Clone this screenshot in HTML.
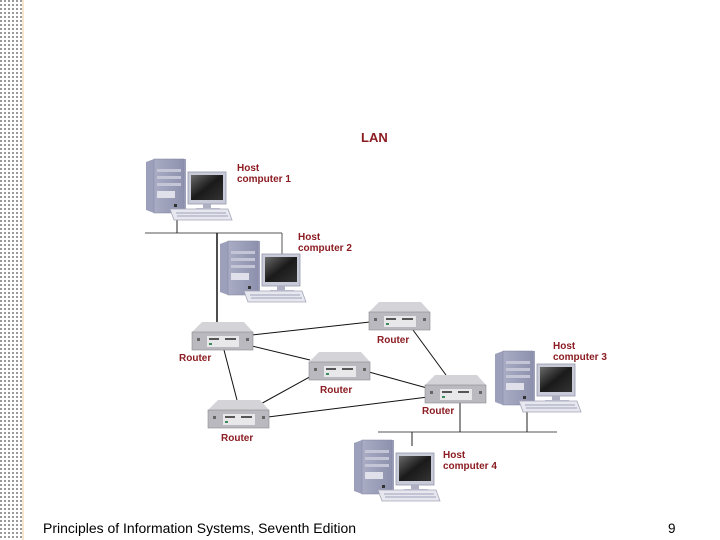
<!DOCTYPE html>
<html><head><meta charset="utf-8"><style>
html,body{margin:0;padding:0;background:#fff;}
body{width:720px;height:540px;overflow:hidden;position:relative;}
svg{position:absolute;left:0;top:0;}
</style></head><body>
<svg width="720" height="540" viewBox="0 0 720 540" xmlns="http://www.w3.org/2000/svg">
<defs>
<pattern id="dots" x="0" y="0" width="4" height="4" patternUnits="userSpaceOnUse">
<rect x="0" y="0" width="2" height="2" fill="#9a9a9a"/>
</pattern>
<linearGradient id="scr" x1="0" y1="0" x2="1" y2="1">
<stop offset="0" stop-color="#6a6a6a"/><stop offset="0.5" stop-color="#1a1a1a"/><stop offset="1" stop-color="#333"/>
</linearGradient>
<linearGradient id="tw" x1="0" y1="0" x2="1" y2="0">
<stop offset="0" stop-color="#a9acc4"/><stop offset="1" stop-color="#8e91ad"/>
</linearGradient>
<g id="comp">
<polygon points="0,3 8,0 40,0 40,52 8,54 0,51" fill="#9da0ba"/>
<rect x="8" y="0" width="30" height="54" fill="url(#tw)" stroke="#80839e" stroke-width="0.5"/>
<rect x="11" y="10" width="24" height="3" fill="#c4c6d8"/>
<rect x="11" y="17" width="24" height="3" fill="#c4c6d8"/>
<rect x="11" y="24" width="24" height="3" fill="#c4c6d8"/>
<rect x="11" y="32" width="18" height="7" fill="#e0e0ea"/>
<rect x="28" y="45" width="3" height="3" fill="#333"/>
<rect x="42" y="13" width="38" height="32" fill="#c8cad8" stroke="#9496aa" stroke-width="0.8"/>
<rect x="45" y="16" width="32" height="25" fill="url(#scr)"/>
<rect x="57" y="45" width="8" height="4" fill="#aeb0c2"/>
<rect x="50" y="49" width="24" height="3" fill="#c2c4d4"/>
<polygon points="24,50 82,50 86,61 28,61" fill="#e6e7ef" stroke="#a4a6b8" stroke-width="0.8"/>
<line x1="30" y1="54" x2="80" y2="54" stroke="#b8bacb" stroke-width="1.5"/>
<line x1="31" y1="57" x2="82" y2="57" stroke="#b8bacb" stroke-width="1.5"/>
</g>
<g id="rtr">
<polygon points="0,10 10,0 52,0 61,10" fill="#d3d3d8"/>
<rect x="0" y="10" width="61" height="18" fill="#b9b9bf" stroke="#8a8a90" stroke-width="0.6"/>
<rect x="15" y="14" width="32" height="11" fill="#e8e8ea"/>
<rect x="17" y="16" width="10" height="2" fill="#555"/>
<rect x="33" y="16" width="11" height="2" fill="#555"/>
<rect x="17" y="21" width="3" height="2" fill="#3a8a5a"/>
<rect x="5" y="16" width="3" height="3" fill="#666"/>
<rect x="54" y="16" width="3" height="3" fill="#666"/>
</g>
</defs>
<rect x="0" y="0" width="22" height="540" fill="url(#dots)"/>
<rect x="22" y="0" width="2" height="540" fill="#f5e6cc"/>

<g stroke="#555" stroke-width="1" fill="none">
<line x1="145" y1="233" x2="282" y2="233"/>
<line x1="282" y1="233" x2="282" y2="262"/>
<line x1="177" y1="220" x2="177" y2="233" stroke="#222"/>
<line x1="217" y1="233" x2="217" y2="325" stroke="#222" stroke-width="1.6"/>
<line x1="378" y1="432" x2="557" y2="432"/>
<line x1="412" y1="432" x2="412" y2="446" stroke="#222"/>
<line x1="460" y1="402" x2="460" y2="432" stroke="#222"/>
<line x1="527" y1="412" x2="527" y2="432" stroke="#222"/>
<g stroke="#111">
<line x1="252" y1="335" x2="370" y2="322"/>
<line x1="252" y1="346" x2="310" y2="360"/>
<line x1="224" y1="350" x2="237" y2="400"/>
<line x1="315" y1="374" x2="257" y2="406"/>
<line x1="369" y1="372" x2="427" y2="388"/>
<line x1="268" y1="417" x2="428" y2="397"/>
<line x1="413" y1="330" x2="446" y2="375"/>
</g>
</g>

<use href="#comp" x="146" y="159"/>
<use href="#comp" x="220" y="241"/>
<use href="#comp" x="495" y="351"/>
<use href="#comp" x="354" y="440"/>

<use href="#rtr" x="192" y="322"/>
<use href="#rtr" x="369" y="302"/>
<use href="#rtr" x="309" y="352"/>
<use href="#rtr" x="425" y="375"/>
<use href="#rtr" x="208" y="400"/>

<g font-family="Liberation Sans, sans-serif" font-weight="bold" fill="#8b1c22" font-size="10">
<text x="361" y="142" font-size="13">LAN</text>
<text x="237" y="171">Host</text><text x="237" y="182">computer 1</text>
<text x="298" y="240">Host</text><text x="298" y="251">computer 2</text>
<text x="553" y="349">Host</text><text x="553" y="360">computer 3</text>
<text x="443" y="458">Host</text><text x="443" y="469">computer 4</text>
<text x="179" y="361">Router</text>
<text x="377" y="343">Router</text>
<text x="320" y="393">Router</text>
<text x="422" y="414">Router</text>
<text x="221" y="441">Router</text>
</g>
<g font-family="Liberation Sans, sans-serif" fill="#000" font-size="13.5">
<text x="43" y="533" textLength="313" lengthAdjust="spacingAndGlyphs">Principles of Information Systems, Seventh Edition</text>
<text x="668" y="533">9</text>
</g>
</svg>
</body></html>
